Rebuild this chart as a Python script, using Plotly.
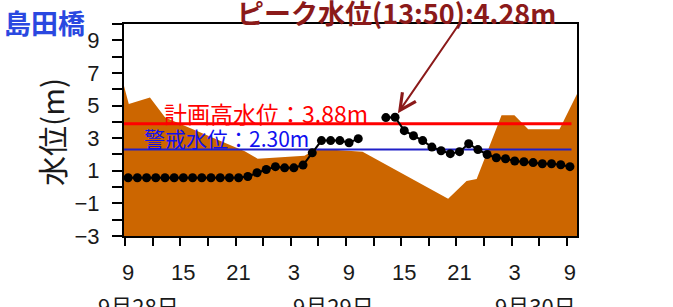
import plotly.graph_objects as go

# ---------------- data ----------------
Y_MIN, Y_MAX = -3, 10
X_MIN, X_MAX = -0.12, 49.1          # hours from 9/28 9:00

tick_hours = [0, 6, 12, 18, 24, 30, 36, 42, 48]
tick_labels = ["9", "15", "21", "3", "9", "15", "21", "3", "9"]
date_labels = ["9月28日", "9月29日", "9月30日"]
y_tick_vals = [-3, -1, 1, 3, 5, 7, 9]

# observed water level (hourly, 9/28 9:20 ... 9/30 9:20)
obs_hours = [h + 1 / 3 for h in range(49)]
obs_level = [0.57, 0.57, 0.57, 0.57, 0.57, 0.57, 0.57, 0.57, 0.57, 0.57,
             0.57, 0.57, 0.57, 0.65, 0.88, 1.08, 1.25, 1.18, 1.18, 1.35,
             2.10, 2.85, 2.85, 2.85, 2.72, 2.97, None, None, 4.26, 4.28,
             3.46, 3.15, 2.85, 2.45, 2.23, 2.05, 2.17, 2.66, 2.30, 2.00,
             1.80, 1.74, 1.60, 1.55, 1.50, 1.43, 1.43, 1.37, 1.25]

# brown background area (top edge)
bed_hours = [-0.12, 0.4, 2.7, 4.35, 13.0, 14.4, 19.5, 20.3, 21.0, 25.8,
             35.1, 37.1, 38.2, 40.9, 42.3, 43.8, 47.2, 49.1]
bed_level = [6.2, 5.1, 5.5, 4.26, 2.2, 1.74, 1.92, 2.2, 2.35, 2.17,
             -0.72, 0.38, 0.5, 4.4, 4.4, 3.55, 3.55, 5.7]

plan_level = 3.88
warn_level = 2.30
line_end_hour = 48.5
peak_hour = 29 + 1 / 3
peak_level = 4.28

# ---------------- layout helpers ----------------
W, H = 673, 307
ML, MR, MT, MB = 124, 96, 24, 71
PW, PH = W - ML - MR, H - MT - MB


def px(x):
    return (x - ML) / PW


def py(y):
    return (H - MB - y) / PH


JP = "Noto Sans CJK JP"
fig = go.Figure()

fig.add_trace(go.Scatter(
    x=bed_hours + [bed_hours[-1], bed_hours[0]],
    y=bed_level + [Y_MIN, Y_MIN],
    fill="toself", fillcolor="#CC6600", mode="lines",
    line=dict(width=0, color="#CC6600"), hoverinfo="skip", showlegend=False))

fig.add_trace(go.Scatter(
    x=[X_MIN, line_end_hour], y=[plan_level, plan_level], mode="lines",
    line=dict(color="#FF0000", width=3), showlegend=False))
fig.add_trace(go.Scatter(
    x=[X_MIN, line_end_hour], y=[warn_level, warn_level], mode="lines",
    line=dict(color="#2020C8", width=2), showlegend=False))

fig.add_trace(go.Scatter(
    x=obs_hours, y=obs_level, mode="lines+markers", connectgaps=False,
    line=dict(color="black", width=2),
    marker=dict(color="black", size=9), showlegend=False))


def label(text, cx, cy, size, color, **kw):
    d = dict(text=text, x=px(cx), y=py(cy), xref="paper", yref="paper",
             xanchor="center", yanchor="middle", showarrow=False,
             font=dict(family=JP, size=size, color=color))
    d.update(kw)
    return d


ann = []
ann.append(label("計画高水位：%.2fm" % plan_level, 266, 113, 23, "#FF0000"))
ann.append(label("警戒水位：%.2fm" % warn_level, 226, 138, 21, "#1010F0"))
ann.append(label("<b>ピーク水位(13:50):%.2fm</b>" % peak_level, 396, 12, 27, "#8B1A1A"))
ann.append(dict(text="", x=peak_hour, y=peak_level, xref="x", yref="y",
                showarrow=True, arrowhead=5, arrowsize=1.6, arrowwidth=2,
                arrowcolor="#8B1A1A", ax=66, ay=-96, standoff=5))
ann.append(label("<b>島田橋</b>", 44, 23, 27, "#2A48E0"))
ann.append(label("水位(m)", 51, 132, 30, "#1a1a1a", textangle=-90))
for lab, cx in zip(date_labels, [138, 333, 535]):
    ann.append(label(lab, cx, 305, 22, "#1a1a1a"))

fig.update_layout(
    width=W, height=H, margin=dict(l=ML, r=MR, t=MT, b=MB, autoexpand=False),
    paper_bgcolor="white", plot_bgcolor="white",
    annotations=ann, showlegend=False,
    font=dict(family="Liberation Sans", color="#1a1a1a"),
)
fig.update_xaxes(
    range=[X_MIN, X_MAX], tickmode="array", tickvals=tick_hours, ticktext=tick_labels,
    automargin=False,
    showgrid=False, zeroline=False, showline=True, linecolor="black", linewidth=2,
    mirror=True, ticks="outside", ticklen=8, tickwidth=2, tickcolor="black",
    tickfont=dict(size=22, family="Liberation Sans", color="#1a1a1a"),
    ticklabelstandoff=8, ticklabelshift=3,
    minor=dict(dtick=3, tick0=0, ticks="outside", ticklen=8, tickwidth=2, tickcolor="black"),
)
fig.update_yaxes(
    range=[Y_MIN, Y_MAX], tickmode="array", tickvals=y_tick_vals,
    automargin=False,
    showgrid=False, zeroline=False, showline=True, linecolor="black", linewidth=2,
    mirror=True, ticks="outside", ticklen=10, tickwidth=2, tickcolor="black",
    tickfont=dict(size=22, family="Liberation Sans", color="#1a1a1a"),
    ticklabelstandoff=8,
    minor=dict(dtick=1, tick0=-3, ticks="outside", ticklen=10, tickwidth=2, tickcolor="black"),
)

fig.write_html("out.html", config={"displayModeBar": False},
               post_script="document.body.style.margin='0';")
